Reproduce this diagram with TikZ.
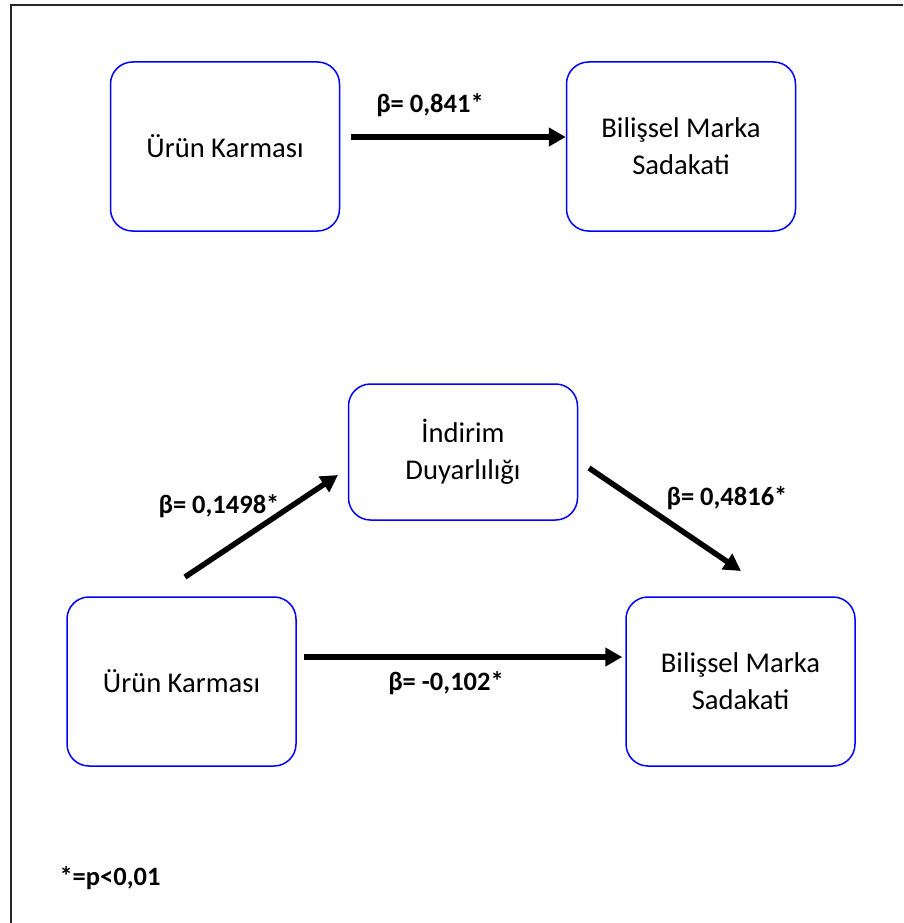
\documentclass[tikz,border=0pt]{standalone}
\usepackage{fontspec}
\setmainfont{Carlito}
\usetikzlibrary{arrows.meta}
\tikzset{
  kutu/.style={draw=blue, line width=1.5pt, rounded corners=22pt, align=center,
    minimum width=229pt, minimum height=169pt, inner sep=0pt,
    font=\fontsize{28.6}{37}\selectfont},
  ok/.style={line width=5.5pt, -{Triangle[length=17pt,width=18pt]}},
  beta/.style={font=\bfseries\fontsize{26.5}{31}\selectfont, inner sep=0pt},
}
\begin{document}
\begin{tikzpicture}[x=1pt, y=-1pt]
  \useasboundingbox (0,0) rectangle (903,923);
  \draw [line width=2pt, black!85] (11,923) -- (11,5) -- (903,5);
  % ust model
  \node [kutu] (urun1) at (225,146.5) {Ürün Karması};
  \node [kutu] (sadakat1) at (681,146.5) {Bilişsel Marka\\Sadakati};
  \draw [ok, shorten <=11pt] ([yshift=9.5pt]urun1.east) -- ([yshift=9.5pt]sadakat1.west);
  \node [beta] (b1) at (430,105) {β= 0,841*};
  % aracili model
  \node [kutu, minimum height=136pt] (indirim) at (463,452) {İndirim\\Duyarlılığı};
  \node [kutu] (urun2) at (181.5,681.5) {Ürün Karması};
  \node [kutu] (sadakat2) at (740.5,681.5) {Bilişsel Marka\\Sadakati};
  \coordinate (k1) at (185,577);
  \coordinate (u1) at (338,475);
  \coordinate (k2) at (589,468);
  \coordinate (u2) at (741,571);
  \draw [ok] (k1) -- (u1);
  \draw [ok] (k2) -- (u2);
  \draw [ok, shorten <=7pt, shorten >=3pt] ([yshift=24.5pt]urun2.east) -- ([yshift=24.5pt]sadakat2.west);
  \node [beta] (b2) at (219,506) {β= 0,1498*};
  \node [beta] (b3) at (727,498) {β= 0,4816*};
  \node [beta] (b4) at (446,683) {β= -0,102*};
  \node [beta] (not) at (110,878) {*=p<0,01};
\end{tikzpicture}
\end{document}
